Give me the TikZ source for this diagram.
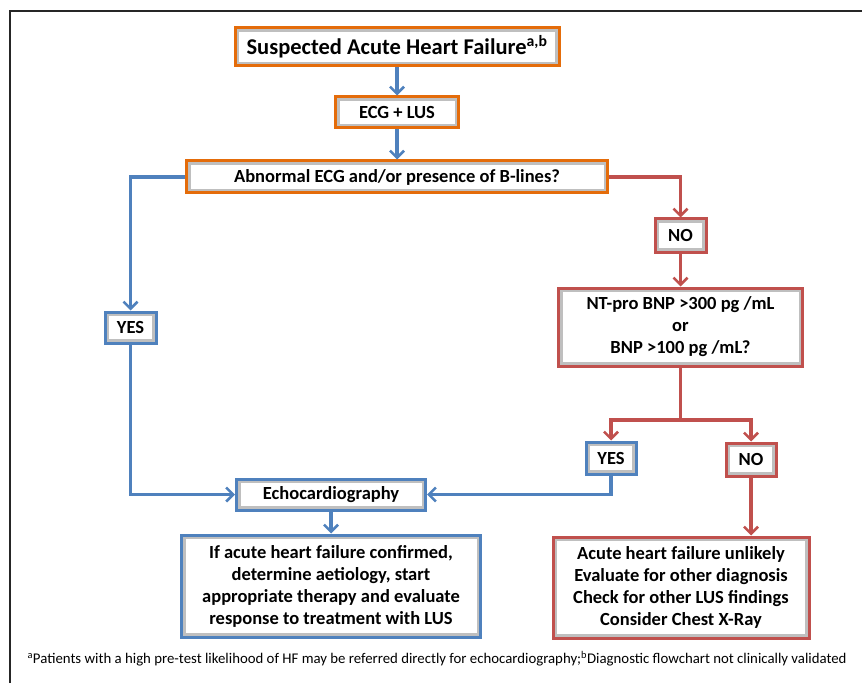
\documentclass[tikz,border=0pt]{standalone}
\usepackage{fontspec}
\setmainfont{Carlito}
\usepackage{tikz}
\usetikzlibrary{arrows.meta, positioning}
\usepackage{xcolor}
\definecolor{hf_orange}{RGB}{228,108,10}
\definecolor{hf_blue}{RGB}{79,129,189}
\definecolor{hf_red}{RGB}{192,80,77}

\begin{document}
\begin{tikzpicture}[
    x=1pt, y=-1pt,
    >={Straight Barb[length=7pt, width=14pt, line width=2.6pt]},
    % box styles
    flow_box/.style={draw, line width=3pt, fill=white, align=center, inner sep=0pt,
        font=\bfseries\fontsize{18.5}{22}\selectfont,
        path picture={\draw[black!25, line width=8pt] (path picture bounding box.south west) rectangle (path picture bounding box.north east);}},
    orange_box/.style={flow_box, draw=hf_orange},
    blue_box/.style={flow_box, draw=hf_blue},
    red_box/.style={flow_box, draw=hf_red},
    % connectors
    blue_arrow/.style={->, draw=hf_blue, line width=3.2pt},
    red_arrow/.style={->, draw=hf_red, line width=3.2pt},
    note_label/.style={font=\fontsize{14.8}{17}\selectfont, anchor=west}
]
    \useasboundingbox (0,0) rectangle (862,687);
    % frame (only top and left edges show)
    \draw[black!85, line width=1.5pt] (10,683) -- (10,11) -- (862,11);

    % --- 1. MAIN COLUMN ---
    \node[orange_box, minimum width=324, minimum height=38, font=\bfseries\fontsize{22.5}{26}\selectfont] (title) at (397,47) {Suspected Acute Heart Failure\textsuperscript{a,b}};
    \node[orange_box, minimum width=123, minimum height=31] (ecg) at (397,112.5) {ECG + LUS};
    \node[orange_box, minimum width=421, minimum height=32] (abn) at (397,177) {Abnormal ECG and/or presence of B-lines?};

    % --- 2. ANSWERS ---
    \node[blue_box, minimum width=51, minimum height=31] (yes1) at (130.5,327.5) {YES};
    \node[red_box, minimum width=51, minimum height=33] (no1) at (680.5,235.5) {NO};
    \node[red_box, minimum width=244, minimum height=78] (bnp) at (680.5,327) {NT-pro BNP {>}300 pg /mL\\or\\BNP {>}100 pg /mL?};
    \node[blue_box, minimum width=50, minimum height=32] (yes2) at (611,458) {YES};
    \node[red_box, minimum width=50, minimum height=33] (no2) at (751,459.5) {NO};

    % --- 3. RESULTS ---
    \node[blue_box, minimum width=299, minimum height=102] (res1) at (331,586) {If acute heart failure confirmed,\\determine aetiology, start\\appropriate therapy and evaluate\\response to treatment with LUS};
    \node[blue_box, minimum width=189, minimum height=31] (echo) at (331,494.5) {Echocardiography};
    \node[red_box, minimum width=256, minimum height=101] (res2) at (681,587.5) {Acute heart failure unlikely\\Evaluate for other diagnosis\\Check for other LUS findings\\Consider Chest X-Ray};

    % --- 4. CONNECTORS ---
    \draw[blue_arrow] (title) -- (ecg);
    \draw[blue_arrow] (ecg) -- (abn);
    \draw[blue_arrow] (abn.west) -| (yes1.north);
    \draw[red_arrow] (abn.east) -| (no1.north);
    \draw[red_arrow] (no1) -- (bnp);
    \coordinate (split) at (680.5,420);
    \draw[draw=hf_red, line width=3.2pt] (bnp.south) -- (split);
    \draw[red_arrow] (split) -| (yes2.north);
    \draw[red_arrow] (split) -| (no2.north);
    \draw[blue_arrow] (yes1.south) |- (echo.west);
    \draw[blue_arrow] (yes2.south) |- (echo.east);
    \draw[blue_arrow] (echo) -- (res1);
    \draw[red_arrow] (no2.south) -- (no2.south |- res2.north);

    % footnote
    \node[note_label] (note) at (24,659) {\textsuperscript{a}Patients with a high pre-test likelihood of HF may be referred directly for echocardiography;\textsuperscript{b}Diagnostic flowchart not clinically validated};
\end{tikzpicture}
\end{document}
